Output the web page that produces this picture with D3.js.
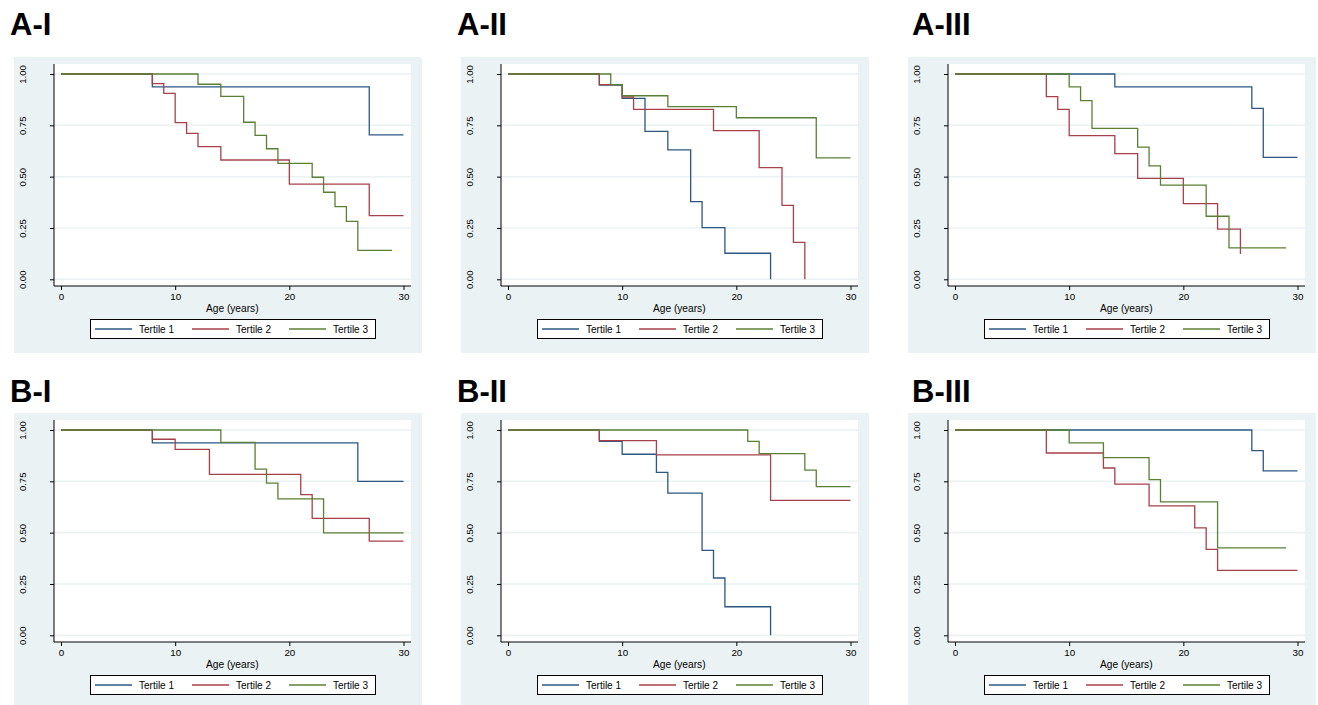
<!doctype html>
<html>
<head>
<meta charset="UTF-8">
<title>Kaplan-Meier by tertile</title>
<script src="https://d3js.org/d3.v7.min.js"></script>
<style>
  body { margin: 0; background: #fff; }
  svg text { font-family: "Liberation Sans", Arial, sans-serif; }
</style>
</head>
<body>
<script>
// ---- data ----
var panelTitles = ["A-I", "A-II", "A-III", "B-I", "B-II", "B-III"];
var seriesNames = ["Tertile 1", "Tertile 2", "Tertile 3"];
var seriesColors = ["#2c5782", "#a8404a", "#5a8034"];
var xTicks = [0, 10, 20, 30];
var yTicks = [0, 0.25, 0.5, 0.75, 1];

// [age, survival] steps; first point at 0, last point is where the curve stops
var aI_t1 = [[0, 1], [8, 0.937], [27, 0.703], [30, 0.703]];
var aI_t2 = [[0, 1], [8, 0.953], [9, 0.906], [10, 0.763], [11, 0.711], [12, 0.646], [14, 0.581], [20, 0.464], [27, 0.310], [30, 0.310]];
var aI_t3 = [[0, 1], [12, 0.950], [14, 0.891], [16, 0.765], [17, 0.701], [18, 0.636], [19, 0.565], [22, 0.497], [23, 0.424], [24, 0.354], [25, 0.282], [26, 0.141], [29, 0.141]];

var aII_t1 = [[0, 1], [8, 0.946], [10, 0.881], [12, 0.721], [14, 0.630], [16, 0.378], [17, 0.252], [19, 0.127], [23, 0]];
var aII_t2 = [[0, 1], [8, 0.948], [10, 0.888], [11, 0.828], [18, 0.724], [22, 0.544], [24, 0.360], [25, 0.180], [26, 0]];
var aII_t3 = [[0, 1], [9, 0.948], [10, 0.894], [14, 0.841], [20, 0.787], [27, 0.591], [30, 0.591]];

var aIII_t1 = [[0, 1], [14, 0.937], [26, 0.833], [27, 0.594], [30, 0.594]];
var aIII_t2 = [[0, 1], [8, 0.890], [9, 0.828], [10, 0.700], [14, 0.612], [16, 0.492], [20, 0.369], [23, 0.244], [25, 0.123]];
var aIII_t3 = [[0, 1], [10, 0.937], [11, 0.870], [12, 0.735], [16, 0.644], [17, 0.552], [18, 0.459], [22, 0.307], [24, 0.153], [29, 0.153]];

var bI_t1 = [[0, 1], [8, 0.937], [26, 0.750], [30, 0.750]];
var bI_t2 = [[0, 1], [8, 0.955], [10, 0.906], [13, 0.784], [21, 0.685], [22, 0.570], [27, 0.459], [30, 0.459]];
var bI_t3 = [[0, 1], [14, 0.940], [17, 0.809], [18, 0.741], [19, 0.665], [23, 0.499], [30, 0.499]];

var bII_t1 = [[0, 1], [8, 0.945], [10, 0.882], [13, 0.794], [14, 0.693], [17, 0.414], [18, 0.279], [19, 0.139], [23, 0]];
var bII_t2 = [[0, 1], [8, 0.948], [13, 0.879], [23, 0.657], [30, 0.657]];
var bII_t3 = [[0, 1], [21, 0.945], [22, 0.885], [26, 0.805], [27, 0.724], [30, 0.724]];

var bIII_t1 = [[0, 1], [26, 0.900], [27, 0.801], [30, 0.801]];
var bIII_t2 = [[0, 1], [8, 0.888], [13, 0.815], [14, 0.736], [17, 0.630], [21, 0.523], [22, 0.419], [23, 0.316], [30, 0.316]];
var bIII_t3 = [[0, 1], [10, 0.937], [13, 0.865], [17, 0.758], [18, 0.650], [23, 0.426], [29, 0.426]];

var panelSeries = [
    [aI_t1, aI_t2, aI_t3],
    [aII_t1, aII_t2, aII_t3],
    [aIII_t1, aIII_t2, aIII_t3],
    [bI_t1, bI_t2, bI_t3],
    [bII_t1, bII_t2, bII_t3],
    [bIII_t1, bIII_t2, bIII_t3]
];

// ---- layout ----
var W = 1318, H = 705;
var colX = [0, 447, 894];
var rowY = [0, 356];
var titleX = [10, 457, 912];
var titleY = [35, 402];
var bgFill = "#eaf2f3";

var svg = d3.select("body").append("svg")
    .attr("width", W)
    .attr("height", H);

var x = d3.scaleLinear().domain([0, 30]).range([61, 403.5]);
var y = d3.scaleLinear().domain([0, 1]).range([279.3, 74]);

var line = d3.line()
    .x(function(d){ return x(d[0]); })
    .y(function(d){ return y(d[1]); })
    .curve(d3.curveStepAfter);

panelTitles.forEach(function(title, i){
    var col = i % 3, row = Math.floor(i / 3);

    svg.append("text")
        .attr("x", titleX[col])
        .attr("y", titleY[row])
        .attr("font-size", 31)
        .attr("font-weight", "bold")
        .attr("fill", "#000")
        .text(title);

    var g = svg.append("g")
        .attr("transform", "translate(" + colX[col] + "," + rowY[row] + ")");

    // graph background + plot region
    g.append("rect").attr("x", 14).attr("y", 57).attr("width", 408).attr("height", 296)
        .attr("fill", bgFill);
    g.append("rect").attr("x", 54).attr("y", 64).attr("width", 357).attr("height", 222)
        .attr("fill", "#fff");

    // gridlines
    g.selectAll(".grid").data(yTicks).enter().append("line")
        .attr("x1", 54).attr("x2", 411)
        .attr("y1", function(d){ return y(d); })
        .attr("y2", function(d){ return y(d); })
        .attr("stroke", bgFill)
        .attr("stroke-width", 1.5);

    // axes
    var yAxis = d3.axisLeft(y).tickValues(yTicks).tickSize(4).tickPadding(3)
        .tickFormat(d3.format(".2f"));
    var gy = g.append("g").attr("transform", "translate(54,0)").call(yAxis);
    gy.select(".domain").attr("d", "M0,64V286").attr("stroke", "#000");
    gy.selectAll(".tick line").attr("stroke", "#000");
    // labels turned upright, left of the ticks
    gy.selectAll(".tick text")
        .attr("font-size", 9.5)
        .attr("fill", "#000")
        .attr("transform", "translate(-31,0) rotate(-90)")
        .attr("x", 0).attr("y", 0)
        .attr("dy", "0.35em")
        .attr("text-anchor", "middle");

    var xAxis = d3.axisBottom(x).tickValues(xTicks).tickSize(4).tickPadding(3);
    var gx = g.append("g").attr("transform", "translate(0,286)").call(xAxis);
    gx.select(".domain").attr("d", "M54,0H411").attr("stroke", "#000");
    gx.selectAll(".tick line").attr("stroke", "#000");
    gx.selectAll(".tick text").attr("font-size", 9.8).attr("fill", "#000");

    g.append("text")
        .attr("x", (x(0) + x(30)) / 2)
        .attr("y", 311.5)
        .attr("text-anchor", "middle")
        .attr("font-size", 10.2)
        .attr("fill", "#000")
        .text("Age (years)");

    // survival curves
    panelSeries[i].forEach(function(s, k){
        g.append("path")
            .attr("d", line(s))
            .attr("fill", "none")
            .attr("stroke", seriesColors[k])
            .attr("stroke-width", 1.3);
    });

    // legend
    g.append("rect").attr("x", 90.5).attr("y", 319.5).attr("width", 285).attr("height", 19)
        .attr("fill", "#fff").attr("stroke", "#000").attr("stroke-width", 1);
    var lx = [95, 192, 289];
    seriesNames.forEach(function(name, k){
        g.append("line")
            .attr("x1", lx[k]).attr("x2", lx[k] + 37)
            .attr("y1", 329).attr("y2", 329)
            .attr("stroke", seriesColors[k])
            .attr("stroke-width", 1.3);
        g.append("text")
            .attr("x", lx[k] + 44)
            .attr("y", 332.8)
            .attr("font-size", 10)
            .attr("fill", "#000")
            .text(name);
    });
});
</script>
</body>
</html>
